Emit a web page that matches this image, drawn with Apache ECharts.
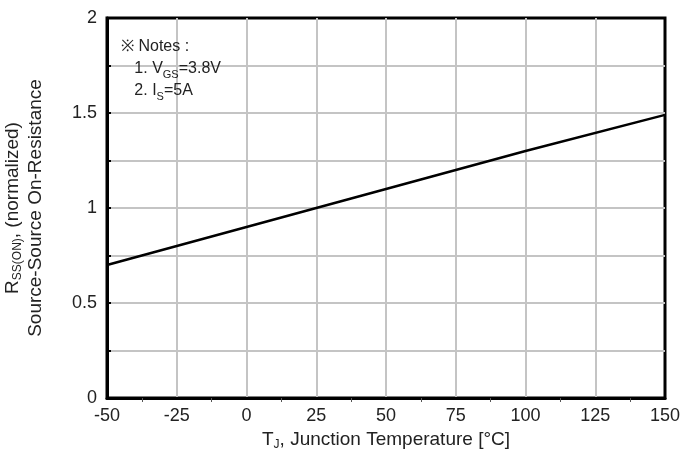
<!DOCTYPE html>
<html>
<head>
<meta charset="utf-8">
<script src="https://cdn.jsdelivr.net/npm/echarts@6/dist/echarts.min.js"></script>
<style>
  html, body { margin: 0; padding: 0; background: #fff; }
  #main { width: 683px; height: 468px; }
</style>
</head>
<body>
<div id="main"></div>
<script>
// temperature (°C) vs normalized Rss(on)
const temps = [-50, 0, 25, 50, 100, 150];
const rss = [0.70, 0.90, 1.00, 1.10, 1.30, 1.49];
const yLabels = [0, 0.5, 1, 1.5, 2];

const font = 'Liberation Sans, Arial, sans-serif';
const chart = echarts.init(document.getElementById('main'));

// normal text and subscript styles for rich labels
const txt = {fontSize: 19, color: '#222', fontFamily: font, lineHeight: 23};
const sub = {fontSize: 12, color: '#222', fontFamily: font, lineHeight: 13, verticalAlign: 'bottom'};

chart.setOption({
  animation: false,
  textStyle: {fontFamily: font},
  title: {
    left: 116, top: 31, padding: 5,
    text: '{t|※ Notes :}\n{t|   1. V}{s|GS}{t|=3.8V}\n{t|   2. I}{s|S}{t|=5A}',
    textStyle: {
      fontWeight: 'normal',
      rich: {
        t: {fontSize: 16, fontWeight: 'normal', color: '#222', fontFamily: font, lineHeight: 22},
        s: {fontSize: 11, fontWeight: 'normal', color: '#222', fontFamily: font, lineHeight: 12, verticalAlign: 'bottom'}
      }
    }
  },
  grid: {
    left: 107, right: 18, top: 18, bottom: 70, outerBoundsMode: 'none',
    show: true, borderColor: '#000', borderWidth: 3
  },
  xAxis: {
    type: 'value', min: -50, max: 150, interval: 25,
    axisLine: {show: true, onZero: false, lineStyle: {color: '#000', width: 3}},
    axisTick: {show: false},
    minorTick: {show: true, splitNumber: 2, length: 4, lineStyle: {color: '#555'}},
    axisLabel: {color: '#222', fontSize: 18, margin: 9, fontFamily: font},
    splitLine: {show: true, showMinLine: false, showMaxLine: false, lineStyle: {color: '#c4c4c4', width: 2}},
    name: '{t|T}{s|J}{t|, Junction Temperature [°C]}',
    nameLocation: 'middle', nameGap: 30,
    nameTextStyle: {rich: {t: txt, s: sub}}
  },
  yAxis: {
    type: 'value', min: 0, max: 2, interval: 0.25,
    axisLine: {show: true, onZero: false, lineStyle: {color: '#000', width: 3}},
    axisTick: {show: true, inside: true, length: 4, lineStyle: {color: '#000', width: 2}},
    axisLabel: {
      color: '#222', fontSize: 18, margin: 10, fontFamily: font,
      formatter: v => yLabels.indexOf(v) >= 0 ? String(v) : ''
    },
    splitLine: {show: true, showMinLine: false, showMaxLine: false, lineStyle: {color: '#c4c4c4', width: 2}},
    name: '{t|R}{s|SS(ON)}{t|, (normalized)}\n{t|Source-Source On-Resistance}',
    nameLocation: 'middle', nameGap: 60, nameRotate: 90,
    nameTextStyle: {lineHeight: 23, rich: {t: txt, s: sub}}
  },
  series: [{
    type: 'line', data: temps.map((t, i) => [t, rss[i]]),
    showSymbol: false, lineStyle: {color: '#000', width: 2.5}
  }]
});
</script>
</body>
</html>
